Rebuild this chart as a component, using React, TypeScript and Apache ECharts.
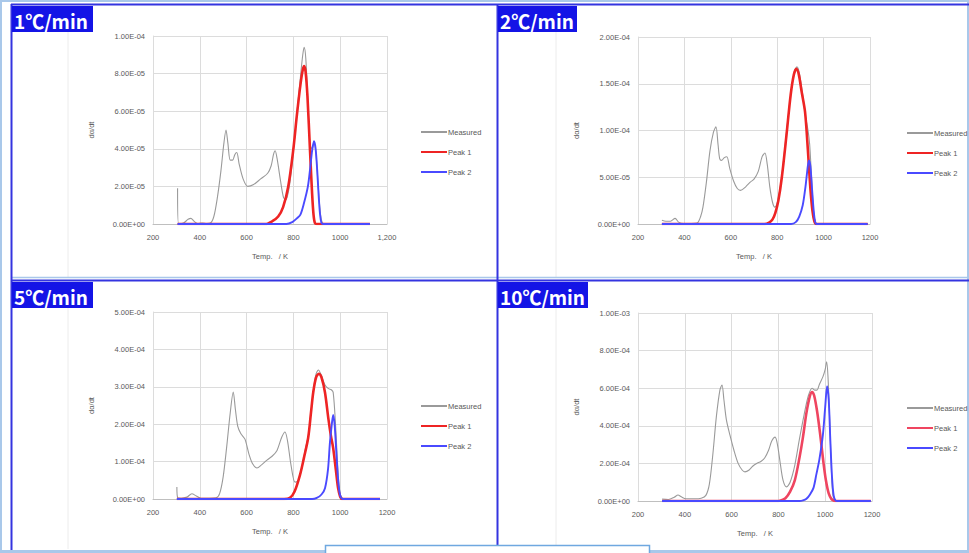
import React, { useEffect, useRef } from "react";
import * as echarts from "echarts";

// ---------- data (T / K, dα/dt) ----------
const panelLabels = ["1℃/min", "2℃/min", "5℃/min", "10℃/min"];
const seriesNames = ["Measured", "Peak 1", "Peak 2"];
const xTicks = [200, 400, 600, 800, 1000, 1200];
const yMaxes = [1e-4, 2e-4, 5e-4, 1e-3];
const yIntervals = [2e-5, 5e-5, 1e-4, 2e-4];

const measured1 = [
  [305, 1.9e-5], [309, 2e-7], [330, 5e-7], [350, 2.5e-6], [362, 3.0e-6], [375, 1.5e-6], [390, 3e-7],
  [410, 5e-7], [430, 3e-7], [445, 5e-7], [460, 4e-6], [475, 1.4e-5], [490, 2.8e-5], [503, 4.3e-5],
  [512, 5.0e-5], [520, 4.3e-5], [530, 3.4e-5], [540, 3.4e-5], [550, 3.7e-5], [558, 3.8e-5],
  [568, 3.2e-5], [585, 2.4e-5], [605, 2.0e-5], [630, 2.1e-5], [660, 2.4e-5], [690, 2.7e-5],
  [705, 3.1e-5], [715, 3.7e-5], [722, 3.9e-5], [730, 3.5e-5], [745, 2.3e-5], [758, 1.4e-5],
  [768, 1.3e-5], [785, 2.2e-5], [800, 3.9e-5], [815, 5.9e-5], [830, 7.8e-5], [840, 9.0e-5],
  [846, 9.4e-5], [853, 8.8e-5], [862, 6.5e-5], [871, 4.2e-5], [880, 4.0e-5], [888, 4.4e-5],
  [896, 3.8e-5], [904, 2.4e-5], [912, 1.0e-5], [920, 2e-6], [930, 0], [1127, 0],
];
const peak1_1 = [
  [305, 0], [680, 0], [710, 1.5e-6], [735, 4e-6], [756, 9e-6], [778, 2.0e-5], [799, 3.9e-5],
  [815, 5.8e-5], [830, 7.4e-5], [840, 8.2e-5], [846, 8.4e-5], [852, 8.1e-5], [860, 6.8e-5],
  [871, 3.9e-5], [880, 1.6e-5], [886, 5e-6], [892, 5e-7], [900, 0], [1127, 0],
];
const peak2_1 = [
  [305, 0], [770, 0], [795, 1e-6], [815, 3e-6], [830, 5e-6], [845, 1.1e-5], [862, 2.0e-5],
  [872, 3.0e-5], [880, 3.9e-5], [888, 4.4e-5], [895, 4.0e-5], [902, 2.8e-5], [908, 1.5e-5],
  [914, 5e-6], [920, 5e-7], [927, 0], [1127, 0],
];

const measured2 = [
  [303, 4e-6], [320, 3e-6], [340, 3e-6], [360, 6e-6], [375, 2e-6], [395, 5e-7], [430, 5e-7],
  [455, 1e-6], [470, 8e-6], [480, 1.8e-5], [495, 4.5e-5], [510, 7.8e-5], [525, 9.8e-5],
  [536, 1.04e-4], [545, 8.5e-5], [552, 7.0e-5], [560, 6.8e-5], [572, 7.1e-5], [583, 7.2e-5],
  [595, 6.0e-5], [612, 4.6e-5], [628, 3.8e-5], [642, 3.6e-5], [665, 4.0e-5], [685, 4.5e-5],
  [700, 4.8e-5], [718, 5.6e-5], [735, 7.2e-5], [747, 7.6e-5], [757, 6.4e-5], [768, 4.0e-5],
  [780, 2.3e-5], [790, 1.8e-5], [805, 2.8e-5], [820, 5.2e-5], [840, 9.8e-5], [860, 1.42e-4],
  [875, 1.64e-4], [885, 1.68e-4], [895, 1.62e-4], [910, 1.38e-4], [922, 1.15e-4], [933, 1.0e-4],
  [940, 8.5e-5], [948, 5.0e-5], [955, 2.0e-5], [963, 3e-6], [975, 0], [1190, 0],
];
const peak1_2 = [
  [303, 0], [745, 0], [765, 1.5e-6], [780, 5e-6], [792, 1.2e-5], [805, 2.5e-5], [820, 5.0e-5],
  [840, 9.5e-5], [858, 1.38e-4], [872, 1.60e-4], [883, 1.66e-4], [893, 1.60e-4], [905, 1.42e-4],
  [920, 1.2e-4], [932, 8.0e-5], [943, 3.8e-5], [952, 1.4e-5], [960, 3e-6], [968, 0], [1190, 0],
];
const peak2_2 = [
  [303, 0], [860, 0], [880, 2e-6], [895, 8e-6], [910, 2.0e-5], [922, 4.0e-5], [932, 6.2e-5],
  [937, 6.8e-5], [943, 6.2e-5], [950, 3.8e-5], [957, 1.5e-5], [963, 3e-6], [970, 0], [1190, 0],
];

const measured3 = [
  [302, 3.2e-5], [306, 3e-6], [320, 2e-6], [345, 5e-6], [366, 1.4e-5], [385, 8e-6], [405, 2e-6],
  [440, 2e-6], [470, 3e-6], [485, 1.5e-5], [500, 6e-5], [515, 1.4e-4], [530, 2.3e-4],
  [543, 2.86e-4], [552, 2.4e-4], [562, 1.95e-4], [575, 1.75e-4], [593, 1.6e-4], [610, 1.2e-4],
  [625, 9.5e-5], [644, 8.3e-5], [665, 9.2e-5], [687, 1.04e-4], [710, 1.15e-4], [730, 1.3e-4],
  [750, 1.65e-4], [764, 1.79e-4], [775, 1.55e-4], [790, 9.0e-5], [807, 4.5e-5], [820, 4.8e-5],
  [835, 8.0e-5], [850, 1.3e-4], [865, 1.75e-4], [880, 2.6e-4], [895, 3.3e-4], [907, 3.45e-4],
  [920, 3.3e-4], [935, 3.05e-4], [950, 2.95e-4], [962, 2.92e-4], [970, 2.85e-4], [980, 2.0e-4],
  [990, 8e-5], [999, 1.5e-5], [1010, 2e-6], [1025, 0], [1170, 0],
];
const peak1_3 = [
  [302, 0], [760, 0], [785, 3e-6], [805, 2.0e-5], [828, 6.4e-5], [845, 1.1e-4], [863, 1.63e-4],
  [875, 2.3e-4], [885, 2.86e-4], [897, 3.25e-4], [909, 3.35e-4], [920, 3.25e-4], [935, 2.85e-4],
  [949, 2.17e-4], [960, 1.7e-4], [970, 1.36e-4], [982, 7.5e-5], [991, 2.9e-5], [1000, 6e-6],
  [1008, 0], [1170, 0],
];
const peak2_3 = [
  [302, 0], [880, 0], [900, 3e-6], [920, 1.2e-5], [935, 2.9e-5], [948, 8.0e-5], [956, 1.5e-4],
  [965, 2.05e-4], [970, 2.25e-4], [976, 2.0e-4], [983, 1.3e-4], [990, 6.0e-5], [997, 1.8e-5],
  [1004, 3e-6], [1012, 0], [1170, 0],
];

const measured4 = [
  [303, 1e-5], [330, 8e-6], [355, 2.0e-5], [371, 3.2e-5], [385, 2.2e-5], [405, 1.2e-5], [440, 1.2e-5],
  [470, 1.5e-5], [490, 3e-5], [505, 9e-5], [520, 2.5e-4], [535, 4.5e-4], [550, 5.9e-4],
  [559, 6.17e-4], [567, 5.4e-4], [578, 4.3e-4], [593, 3.5e-4], [610, 2.7e-4], [628, 2.0e-4],
  [645, 1.65e-4], [657, 1.55e-4], [675, 1.65e-4], [690, 1.85e-4], [707, 2.0e-4], [725, 2.1e-4],
  [742, 2.3e-4], [758, 2.7e-4], [772, 3.2e-4], [786, 3.4e-4], [796, 3.0e-4], [808, 2.0e-4],
  [820, 1.1e-4], [835, 7.5e-5], [850, 1.0e-4], [870, 1.9e-4], [890, 3.3e-4], [910, 4.6e-4],
  [928, 5.6e-4], [944, 6.0e-4], [955, 5.9e-4], [965, 5.9e-4], [975, 6.2e-4], [990, 6.6e-4],
  [1000, 7.0e-4], [1006, 7.4e-4], [1012, 6.6e-4], [1020, 4.0e-4], [1027, 1.5e-4], [1033, 3e-5],
  [1042, 3e-6], [1050, 0], [1195, 0],
];
const peak1_4 = [
  [303, 0], [790, 0], [810, 3e-6], [830, 1.5e-5], [850, 5e-5], [870, 1.1e-4], [890, 2.3e-4],
  [905, 3.4e-4], [920, 4.7e-4], [935, 5.6e-4], [944, 5.8e-4], [953, 5.6e-4], [965, 4.8e-4],
  [978, 3.6e-4], [992, 2.1e-4], [1003, 1.1e-4], [1015, 4.0e-5], [1027, 1.0e-5], [1038, 1.5e-6],
  [1048, 0], [1195, 0],
];
const peak2_4 = [
  [303, 0], [890, 0], [905, 3e-6], [920, 1.2e-5], [935, 3.5e-5], [950, 7e-5], [962, 1.4e-4],
  [975, 2.2e-4], [990, 3.5e-4], [1000, 5.0e-4], [1008, 6.1e-4], [1015, 5.4e-4], [1022, 3.2e-4],
  [1029, 1.3e-4], [1036, 3e-5], [1044, 3e-6], [1052, 0], [1195, 0],
];

const measuredAll = [measured1, measured2, measured3, measured4];
const peak1All = [peak1_1, peak1_2, peak1_3, peak1_4];
const peak2All = [peak2_1, peak2_2, peak2_3, peak2_4];

// ---------- layout ----------
const grids = [
  { left: 153, top: 36, width: 234, height: 188 },
  { left: 638, top: 37, width: 232, height: 187 },
  { left: 153, top: 312, width: 234, height: 187 },
  { left: 638, top: 313, width: 234, height: 188 },
];
const legendPos = [
  { left: 415, top: 126 },
  { left: 901, top: 127 },
  { left: 415, top: 400 },
  { left: 901, top: 402 },
];
const labelBoxes = [
  { x: 12, y: 6, w: 81, h: 26 },
  { x: 498, y: 6, w: 79, h: 26 },
  { x: 12, y: 282, w: 81, h: 26 },
  { x: 498, y: 282, w: 90, h: 26 },
];
const redColors = ["#ee2424", "#ee2424", "#ee2424", "#ef4560"];
const blueColor = "#4a4aff";
const grayColor = "#9a9a9a";
const panelBlue = "#3434e0";
const lightBlue = "#a9c8ea";

function sciFmt(v: number): string {
  if (Math.abs(v) < 1e-15) return "0.00E+00";
  const e = Math.floor(Math.log10(Math.abs(v)) + 1e-9);
  const m = v / Math.pow(10, e);
  return m.toFixed(2) + "E" + (e < 0 ? "-" : "+") + String(Math.abs(e)).padStart(2, "0");
}

export default function App() {
  const ref = useRef<HTMLDivElement>(null);
  useEffect(() => {
    if (!ref.current) return;
    const chart = echarts.init(ref.current, undefined, { renderer: "svg" });
    const textColor = "#595959";
    const font = "Liberation Sans";

    const xAxis = grids.map((_, i) => ({
      type: "value",
      gridIndex: i,
      min: xTicks[0],
      max: xTicks[xTicks.length - 1],
      interval: 200,
      name: "Temp.   / K",
      nameLocation: "middle",
      nameGap: 28,
      nameTextStyle: { fontSize: 7.5, color: textColor, fontFamily: font },
      axisLine: { show: true, lineStyle: { color: "#bfbfbf", width: 1 } },
      axisTick: { show: false },
      axisLabel: {
        fontSize: 7.5,
        color: textColor,
        fontFamily: font,
        margin: 9,
        formatter: (v: number) => (i === 0 && v === 1200 ? "1,200" : String(v)),
      },
      splitLine: { show: true, lineStyle: { color: "#dcdcdc", width: 1 } },
    }));
    const yAxis = grids.map((_, i) => ({
      type: "value",
      gridIndex: i,
      min: 0,
      max: yMaxes[i],
      interval: yIntervals[i],
      name: "dα/dt",
      nameLocation: "middle",
      nameGap: 58,
      nameRotate: 90,
      nameTextStyle: { fontSize: 7.5, color: textColor, fontFamily: font },
      axisLine: { show: true, lineStyle: { color: "#dcdcdc", width: 1 } },
      axisTick: { show: false },
      axisLabel: { fontSize: 7.5, color: textColor, fontFamily: font, margin: 8, formatter: sciFmt },
      splitLine: { show: true, lineStyle: { color: "#dcdcdc", width: 1 } },
    }));

    const series: any[] = [];
    for (let i = 0; i < 4; i++) {
      series.push({
        name: seriesNames[0] + "#" + i,
        type: "line",
        xAxisIndex: i,
        yAxisIndex: i,
        data: measuredAll[i],
        showSymbol: false,
        symbol: "none",
        smooth: 0.3,
        lineStyle: { color: grayColor, width: 1.1 },
        itemStyle: { color: grayColor },
      });
      series.push({
        name: seriesNames[1] + "#" + i,
        type: "line",
        xAxisIndex: i,
        yAxisIndex: i,
        data: peak1All[i],
        showSymbol: false,
        symbol: "none",
        smooth: 0.3,
        lineStyle: { color: redColors[i], width: 2.6 },
        itemStyle: { color: redColors[i] },
      });
      series.push({
        name: seriesNames[2] + "#" + i,
        type: "line",
        xAxisIndex: i,
        yAxisIndex: i,
        data: peak2All[i],
        showSymbol: false,
        symbol: "none",
        smooth: 0.3,
        lineStyle: { color: blueColor, width: 1.9 },
        itemStyle: { color: blueColor },
      });
    }

    const legend = legendPos.map((p, i) => ({
      left: p.left,
      top: p.top - 3,
      orient: "vertical",
      itemWidth: 26,
      itemHeight: 8,
      itemGap: 12,
      itemStyle: { opacity: 0 },
      data: seriesNames.map((n) => n + "#" + i),
      formatter: (name: string) => name.split("#")[0],
      textStyle: { fontSize: 7.5, color: textColor, fontFamily: font, padding: [0, 0, 0, -4] },
      selectedMode: false,
    }));

    const graphic: any[] = [];
    // outer light frame
    graphic.push({
      type: "rect",
      shape: { x: 1, y: 1, width: 967, height: 551 },
      style: { fill: "none", stroke: lightBlue, lineWidth: 2 },
      silent: true,
    });
    // faint chart-area borders
    [68, 556].forEach((x) => {
      graphic.push({ type: "line", shape: { x1: x, y1: 6, x2: x, y2: 277 }, style: { stroke: "#ececec", lineWidth: 1 }, silent: true });
      graphic.push({ type: "line", shape: { x1: x, y1: 283, x2: x, y2: 549 }, style: { stroke: "#ececec", lineWidth: 1 }, silent: true });
    });
    // TL light bottom edge
    graphic.push({ type: "line", shape: { x1: 11, y1: 277.5, x2: 969, y2: 277.5 }, style: { stroke: lightBlue, lineWidth: 1.5 }, silent: true });
    // dark blue panel borders
    const darkLines = [
      [11.5, 4, 11.5, 551],
      [497.5, 4, 497.5, 546],
      [11, 4.5, 969, 4.5],
      [11, 280.5, 969, 280.5],
    ];
    darkLines.forEach(([x1, y1, x2, y2]) =>
      graphic.push({ type: "line", shape: { x1, y1, x2, y2 }, style: { stroke: panelBlue, lineWidth: 2 }, silent: true })
    );
    // bottom light line
    graphic.push({ type: "line", shape: { x1: 0, y1: 551, x2: 969, y2: 551 }, style: { stroke: lightBlue, lineWidth: 2 }, silent: true });
    // bottom box
    graphic.push({
      type: "rect",
      shape: { x: 325.5, y: 545.5, width: 324, height: 12 },
      style: { fill: "#ffffff", stroke: "#6fa8e0", lineWidth: 1.5 },
      silent: true,
    });
    // labels
    labelBoxes.forEach((b, i) => {
      graphic.push({
        type: "rect",
        shape: { x: b.x, y: b.y, width: b.w, height: b.h },
        style: { fill: "#1414e6" },
        silent: true,
      });
      graphic.push({
        type: "text",
        x: b.x + 2,
        y: b.y + b.h / 2 + 1,
        style: {
          text: panelLabels[i],
          fill: "#ffffff",
          fontSize: 19,
          fontWeight: "bold",
          fontFamily: "Noto Sans CJK JP",
          verticalAlign: "middle",
          align: "left",
        },
        silent: true,
      });
    });

    chart.setOption({
      animation: false,
      backgroundColor: "#ffffff",
      grid: grids,
      xAxis,
      yAxis,
      series,
      legend,
      graphic,
    });
    return () => chart.dispose();
  }, []);
  return (
    <div
      ref={ref}
      style={{ position: "fixed", left: 0, top: 0, width: "969px", height: "553px", background: "#fff" }}
    />
  );
}
